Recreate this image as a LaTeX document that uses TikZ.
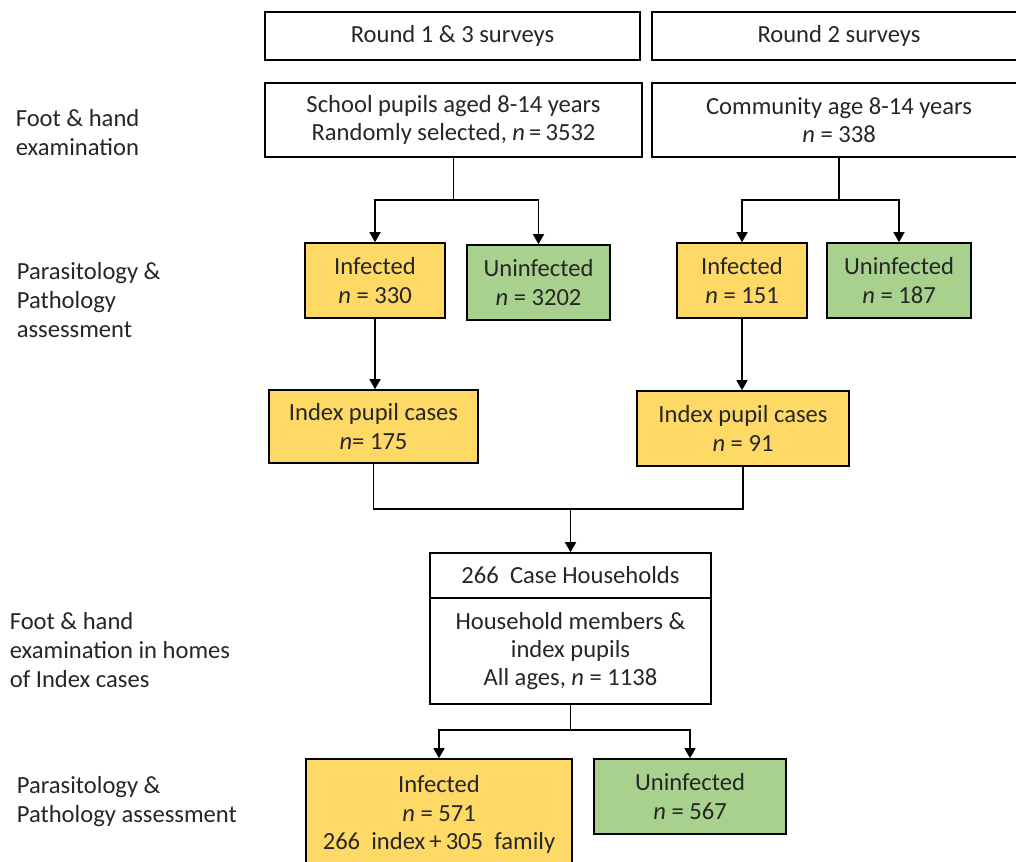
\documentclass[tikz,border=0pt]{standalone}
\usepackage{fontspec}
\setmainfont{Carlito}
\usepackage{tikz}
\usetikzlibrary{arrows.meta}

\definecolor{infyellow}{HTML}{FFD966}
\definecolor{uninfgreen}{HTML}{A9D18E}
\definecolor{inktext}{HTML}{262626}

\begin{document}
\begin{tikzpicture}
	[x=0.5pt, y=-0.5pt, line width=0.8pt,
	 box/.style = {draw, rectangle, align=center, inner sep=0pt, text=inktext,
	   font=\fontsize{12.3pt}{14.2pt}\selectfont},
	 inf/.style = {box, fill=infyellow},
	 uninf/.style = {box, fill=uninfgreen},
	 lab/.style = {anchor=north west, align=left, inner sep=0pt, text=inktext,
	   font=\fontsize{12.3pt}{14.4pt}\selectfont},
	 arr/.style = {-{Triangle[width=5.5pt,length=5pt]}}]
	\useasboundingbox (0,0) rectangle (1016,861);
	\node[box, minimum width=187.5pt, minimum height=24pt] (r13) at (452.5,36) {Round 1 \& 3 surveys};
	\node[box, minimum width=187pt, minimum height=24pt] (r2) at (839,36) {Round 2 surveys};
	\node[box, minimum width=188.5pt, minimum height=37pt] (school) at (453.5,120) {School pupils aged 8-14 years\\Randomly selected, \textit{n}\,=\,3532};
	\node[box, minimum width=187pt, minimum height=37pt] (comm) at (839,120) {Community age 8-14 years\\\textit{n} = 338};
	\node[inf, minimum width=70pt, minimum height=37.5pt] (infA) at (375,280.5) {Infected\\\textit{n} = 330};
	\node[uninf, minimum width=71.5pt, minimum height=37.5pt] (uninfA) at (538.5,282.5) {Uninfected\\\textit{n} = 3202};
	\node[inf, minimum width=65pt, minimum height=37.5pt] (infB) at (742,280.5) {Infected\\\textit{n} = 151};
	\node[uninf, minimum width=72pt, minimum height=37.5pt] (uninfB) at (899,280.5) {Uninfected\\\textit{n} = 187};
	\node[inf, minimum width=104.5pt, minimum height=36.5pt] (indexA) at (373.5,426.5) {Index pupil cases\\\textit{n}= 175};
	\node[inf, minimum width=106pt, minimum height=37.5pt] (indexB) at (743,428.5) {Index pupil cases\\\textit{n} = 91};
	\node[box, minimum width=140.5pt, minimum height=22.5pt] (hh) at (570.5,575.5) {266\ \ Case Households};
	\node[box, minimum width=140.5pt, minimum height=53pt] (hm) at (570.5,651) {Household members \&\\index pupils\\All ages, \textit{n} = 1138};
	\node[inf, minimum width=133pt, minimum height=55.5pt] (infC) at (439,814.5) {Infected\\\textit{n} = 571\\266\ \ index\,+\,305\ \ family};
	\node[uninf, minimum width=96pt, minimum height=37.5pt] (uninfC) at (690,796.5) {Uninfected\\\textit{n} = 567};
	\node[lab] (l1) at (15,109) {Foot \& hand\\examination};
	\node[lab] (l2) at (16,262) {Parasitology \&\\Pathology\\assessment};
	\node[lab] (l3) at (9,612) {Foot \& hand\\examination in homes\\of Index cases};
	\node[lab] (l4) at (16,776) {Parasitology \&\\Pathology assessment};
	\coordinate (s1) at (453.5,200);
	\coordinate (c1) at (839,200);
	\coordinate (m1) at (570.5,509);
	\coordinate (h1) at (570.5,730);
	\draw (school.south) -- (s1);
	\draw[arr] (s1) -| (infA.north);
	\draw[arr] (s1) -| (uninfA.north);
	\draw (comm.south) -- (c1);
	\draw[arr] (c1) -| (infB.north);
	\draw[arr] (c1) -| (uninfB.north);
	\draw[arr] (infA.south) -- (infA.south |- indexA.north);
	\draw[arr] (infB.south) -- (infB.south |- indexB.north);
	\draw (indexA.south) |- (m1) -| (indexB.south);
	\draw[arr] (m1) -- (hh.north);
	\draw (hm.south) -- (h1);
	\draw[arr] (h1) -| (infC.north);
	\draw[arr] (h1) -| (uninfC.north);
\end{tikzpicture}
\end{document}
